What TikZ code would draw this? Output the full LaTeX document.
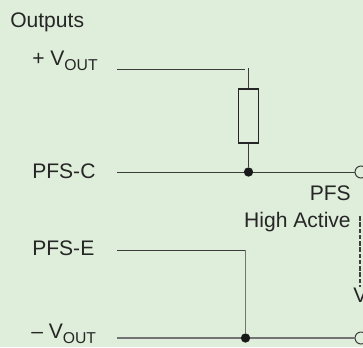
\documentclass[tikz,border=0pt]{standalone}
\usepackage{fontspec}
\setmainfont{Liberation Sans}
\definecolor{panelgreen}{RGB}{223,238,218}
\definecolor{wiregray}{RGB}{60,60,60}
\newcommand{\vout}{V\raisebox{-0.52ex}{\fontsize{11.8}{12}\selectfont OUT}}

\begin{document}
\begin{tikzpicture}[x=0.75pt,y=-0.75pt]

%
% Styles
%
\tikzstyle{wire} = [draw=wiregray,line width=0.75pt]
\tikzstyle{label} = [inner sep=0pt,text=black!85,font=\fontsize{15.8}{18}\selectfont]
\tikzstyle{dot} = [circle,fill=black!90,inner sep=0pt,minimum size=7pt]
\tikzstyle{terminal} = [circle,draw=wiregray,line width=0.75pt,inner sep=0pt,minimum size=9pt]
\tikzstyle{resistor} = [rectangle,draw=black!85,line width=1.3pt,inner sep=0pt,minimum width=15pt,minimum height=40pt]

\useasboundingbox (0,0) rectangle (363,347);
\clip (0,0) rectangle (363,347);
\fill[panelgreen] (0,0) rectangle (363,347);

\node[label,anchor=base west] (outputs) at (10, 27) {Outputs};
\node[label,anchor=base west] (vplus) at (32, 65) {+ \vout};
\node[label,anchor=base west] (pfsc) at (32, 178) {PFS-C};
\node[label,anchor=base west] (pfse) at (32, 255) {PFS-E};
\node[label,anchor=base west] (vminus) at (31, 338) {-- \vout};
\node[label,anchor=base east] (pfs) at (351, 200) {PFS};
\node[label,anchor=base east] (high) at (351, 227) {High Active};
\node[label,anchor=base west] (v) at (353, 302) {V};

\node[resistor] (r) at (248.5, 116) {};
\node[dot] (top) at (248.5, 172) {};
\node[dot] (bottom) at (245.5, 338) {};
\node[terminal] (tc) at (361, 172) {};
\node[terminal] (tb) at (361, 338) {};

\coordinate (a1) at (117, 69);
\coordinate (a2) at (245, 69);
\coordinate (a3) at (248.5, 68);
\coordinate (b1) at (117, 172);
\coordinate (c1) at (117, 250);
\coordinate (c2) at (245.5, 250);
\coordinate (d1) at (117, 338);
\coordinate (e1) at (360, 216);
\coordinate (e2) at (360, 287);

\draw[wire] (a1) -- (a2);
\draw[wire] (a3) -- (r);
\draw[wire] (r) -- (top);
\draw[wire] (b1) -- (top);
\draw[wire] (top) -- (tc);
\draw[wire] (c1) -- (c2);
\draw[wire,draw=black!55,line width=1pt] (c2) -- (bottom);
\draw[wire,draw=black!55,line width=1pt] (d1) -- (bottom);
\draw[wire,draw=black!55,line width=1pt] (bottom) -- (tb);
\draw[wire,line width=1pt,dash pattern=on 3.4pt off 1.3pt] (e1) -- (e2);

\end{tikzpicture}
\end{document}
